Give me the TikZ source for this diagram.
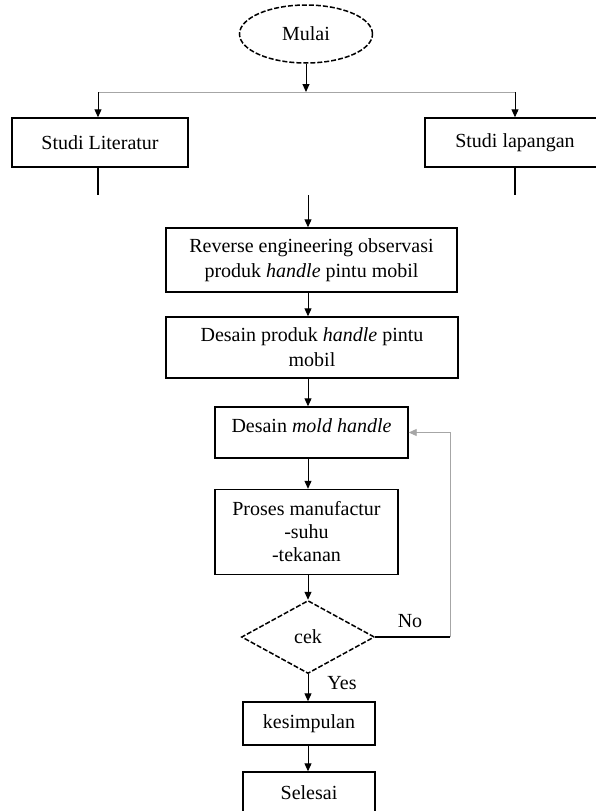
\documentclass[tikz,border=0pt]{standalone}
\usepackage{fontspec}
\setmainfont{Liberation Serif}
\usetikzlibrary{shapes.geometric,arrows.meta}
\begin{document}
\begin{tikzpicture}[x=1pt,y=-1pt,
  font=\fontsize{20}{25}\selectfont,
  box/.style={draw,line width=1.4pt,rectangle,inner sep=0pt,align=center},
  arr/.style={line width=1pt,-{Triangle[length=8pt,width=7pt]}},
  ln/.style={line width=1.2pt},
  faint/.style={line width=0.9pt,draw=black!35},
  dashy/.style={draw,line width=1.5pt,dash pattern=on 5pt off 2pt}]
\useasboundingbox (0,0) rectangle (596,811);
\node[ellipse,dashy,minimum width=133pt,minimum height=58pt,inner sep=0pt] (mulai) at (306,34) {Mulai};
\coordinate (j) at (306,92);
\coordinate (jl) at (98,92);
\coordinate (jr) at (515,92);
\node[box,minimum width=176pt,minimum height=49pt] (lit) at (100,142.5) {Studi Literatur};
\node[box,minimum width=180pt,minimum height=49pt] (lap) at (515,142.5) {Studi lapangan};
\coordinate (el) at (98,195);
\coordinate (er) at (515,195);
\coordinate (ax) at (308,0);
\coordinate (cs) at (308,195);
\node[box,minimum width=291pt,minimum height=64pt] (rev) at (311.5,260) {Reverse engineering observasi\\produk \textit{handle} pintu mobil};
\node[box,minimum width=292pt,minimum height=61pt] (des) at (312,347.5) {Desain produk \textit{handle} pintu\\mobil};
\node[box,minimum width=193pt,text height=25pt,text depth=26pt] (mold) at (311.5,432.5) {Desain \textit{mold handle}};
\node[box,minimum width=183pt,minimum height=85pt,font=\fontsize{20}{23}\selectfont] (proc) at (306.5,532) {Proses manufactur\\-suhu\\-tekanan};
\node[diamond,dashy,minimum width=133pt,minimum height=73pt,aspect=1.82,inner sep=0pt] (cek) at (308,637) {cek};
\node[box,minimum width=132pt,minimum height=43pt] (kes) at (309,723.5) {kesimpulan};
\node[box,minimum width=132pt,minimum height=42pt] (sel) at (309,793) {Selesai};
\coordinate (fbx) at (450,0);
\node (no) at (410,621) {No};
\node (yes) at (342,683) {Yes};
% connectors
\draw[arr] (mulai.south) -- (j);
\draw[faint] (jl) -- (jr);
\draw[arr] (jl) -- (lit.north -| jl);
\draw[arr] (jr) -- (lap.north);
\draw[ln] (lit.south -| el) -- (el);
\draw[ln] (lap.south) -- (er);
\draw[arr] (cs) -- (rev.north -| ax);
\draw[arr] (rev.south -| ax) -- (des.north -| ax);
\draw[arr] (des.south -| ax) -- (mold.north -| ax);
\draw[arr] (mold.south -| ax) -- (proc.north -| ax);
\draw[arr] (proc.south -| ax) -- (cek.north);
\draw[arr] (cek.south) -- (kes.north -| cek.south);
\draw[arr] (kes.south -| cek.south) -- (sel.north -| cek.south);
\draw[ln] (cek.east) -- (cek.east -| fbx);
\draw[faint,-{Triangle[length=8pt,width=7pt]}] (cek.east -| fbx) |- (mold.east);
\end{tikzpicture}
\end{document}
